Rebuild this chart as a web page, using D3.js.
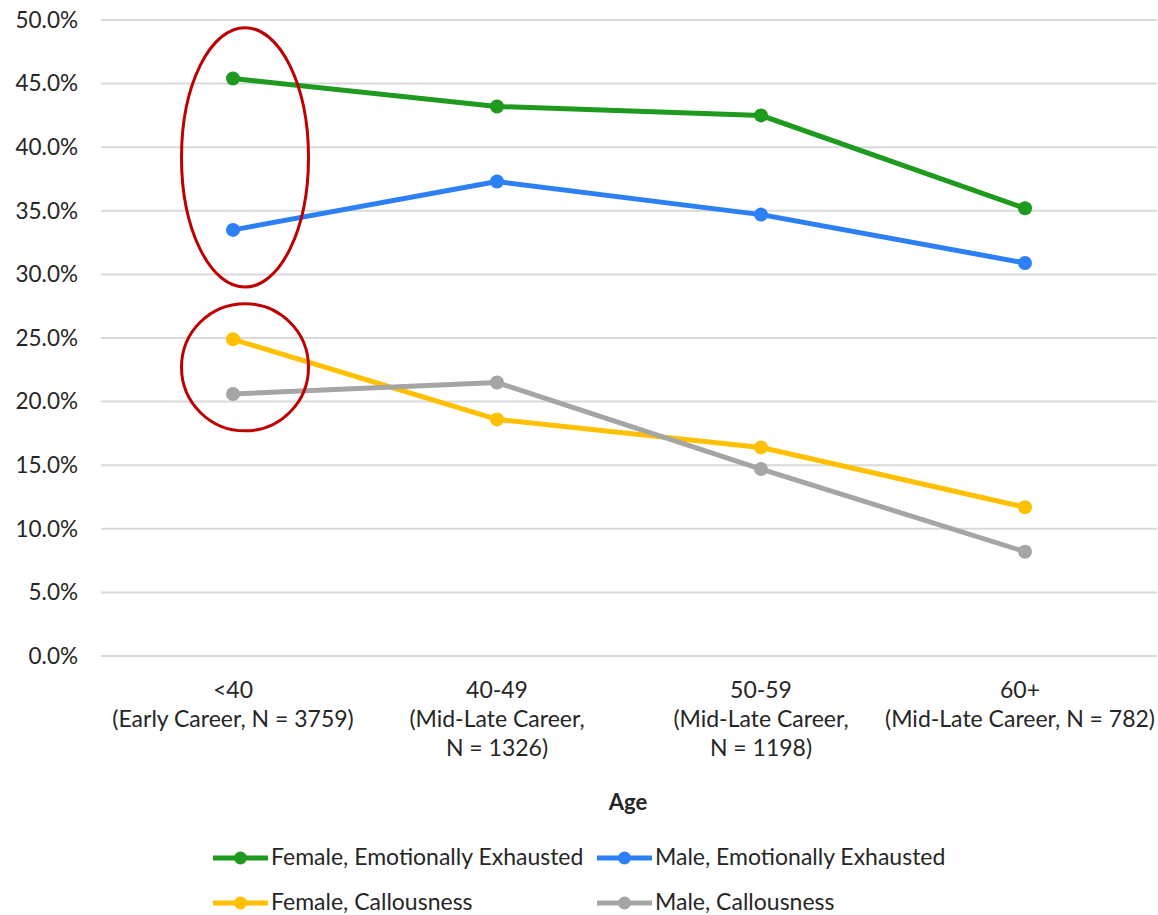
<!DOCTYPE html>
<html>
<head>
<meta charset="utf-8">
<script src="https://cdn.jsdelivr.net/npm/d3@7"></script>
<style>
  html, body { margin: 0; padding: 0; background: #fff; }
  svg { display: block; font-family: Lato, "Open Sans", sans-serif; }
</style>
</head>
<body>
<svg id="chart" width="1158" height="915"></svg>
<script>
// Age groups (x categories), with wrapped label lines
const categories = ["<40", "40-49", "50-59", "60+"];
const categoryLabels = [
  ["<40", "(Early Career, N = 3759)"],
  ["40-49", "(Mid-Late Career,", "N = 1326)"],
  ["50-59", "(Mid-Late Career,", "N = 1198)"],
  ["60+", "(Mid-Late Career, N = 782)"]
];

// Percentages per age group
const femaleExhausted = [45.4, 43.2, 42.5, 35.2];
const maleExhausted = [33.5, 37.3, 34.7, 30.9];
const femaleCallous = [24.9, 18.6, 16.4, 11.7];
const maleCallous = [20.6, 21.5, 14.7, 8.2];

const seriesNames = [
  "Female, Emotionally Exhausted",
  "Male, Emotionally Exhausted",
  "Female, Callousness",
  "Male, Callousness"
];
const seriesColors = ["#1e9a1e", "#2d7ff5", "#ffc000", "#a5a5a5"];

const yTicks = [0, 5, 10, 15, 20, 25, 30, 35, 40, 45, 50];

// Highlighted range for the early-career group: [top %, bottom %]
const highlightRanges = [[49.4, 29.0], [27.7, 17.7]];

const series = [femaleExhausted, maleExhausted, femaleCallous, maleCallous]
  .map((vals, i) => ({ name: seriesNames[i], color: seriesColors[i], values: vals }));

const W = 1158;
const svg = d3.select("#chart");
const textColor = "#262626";

const x = d3.scaleBand().domain(categories).range([101, 1157]);
const y = d3.scaleLinear().domain([0, 50]).range([656, 20]);
const cx = c => x(c) + x.bandwidth() / 2;

// Gridlines
svg.append("g").selectAll("line").data(yTicks).join("line")
  .attr("x1", 101).attr("x2", 1157)
  .attr("y1", d => y(d)).attr("y2", d => y(d))
  .attr("stroke", "#d9d9d9").attr("stroke-width", 2);

// Y axis labels
const yAxis = d3.axisLeft(y).tickValues(yTicks).tickFormat(d => d.toFixed(1) + "%").tickSize(0).tickPadding(0);
const yg = svg.append("g").attr("transform", "translate(78,0)").call(yAxis);
yg.select(".domain").remove();
yg.selectAll("text").attr("font-size", 22.5).attr("fill", textColor).attr("font-family", "Lato, sans-serif");

// X category labels (kept inside the right edge)
const xg = svg.append("g");
categoryLabels.forEach((lines, i) => {
  const g = xg.append("g");
  const t = g.append("text")
    .attr("x", cx(categories[i]))
    .attr("y", 698)
    .attr("text-anchor", "middle")
    .attr("font-size", 23)
    .attr("fill", textColor);
  lines.forEach((ln, j) => {
    t.append("tspan").attr("x", cx(categories[i])).attr("dy", j === 0 ? 0 : 29).text(ln);
  });
  const bb = t.node().getBBox();
  const overflow = bb.x + bb.width - (W - 3);
  if (overflow > 0) g.attr("transform", `translate(${-overflow},0)`);
});

// Axis title
svg.append("text").attr("x", 628).attr("y", 810)
  .attr("text-anchor", "middle").attr("font-size", 22).attr("font-weight", "bold")
  .attr("fill", textColor).text("Age");

// Lines and markers
const line = d3.line().x((d, i) => cx(categories[i])).y(d => y(d));
const sg = svg.append("g");
series.forEach(s => {
  sg.append("path").datum(s.values)
    .attr("d", line)
    .attr("fill", "none").attr("stroke", s.color).attr("stroke-width", 5)
    .attr("stroke-linejoin", "round");
  sg.selectAll(null).data(s.values).join("circle")
    .attr("cx", (d, i) => cx(categories[i])).attr("cy", d => y(d))
    .attr("r", 7).attr("fill", s.color);
});

// Highlight ellipses around the early-career values
svg.append("g").selectAll("ellipse").data(highlightRanges).join("ellipse")
  .attr("cx", cx(categories[0]) + 12)
  .attr("cy", d => (y(d[0]) + y(d[1])) / 2)
  .attr("rx", 63.5)
  .attr("ry", d => (y(d[1]) - y(d[0])) / 2)
  .attr("fill", "none").attr("stroke", "#c00000").attr("stroke-width", 3);

// Legend
const legendPos = [[213, 858], [597, 858], [213, 903], [597, 903]];
const lg = svg.append("g");
series.forEach((s, i) => {
  const [lx, ly] = legendPos[i];
  lg.append("line").attr("x1", lx).attr("x2", lx + 55).attr("y1", ly).attr("y2", ly)
    .attr("stroke", s.color).attr("stroke-width", 5);
  lg.append("circle").attr("cx", lx + 27.5).attr("cy", ly).attr("r", 6.5).attr("fill", s.color);
  lg.append("text").attr("x", lx + 58).attr("y", ly + 7)
    .attr("font-size", 23).attr("fill", textColor).text(s.name);
});
</script>
</body>
</html>
